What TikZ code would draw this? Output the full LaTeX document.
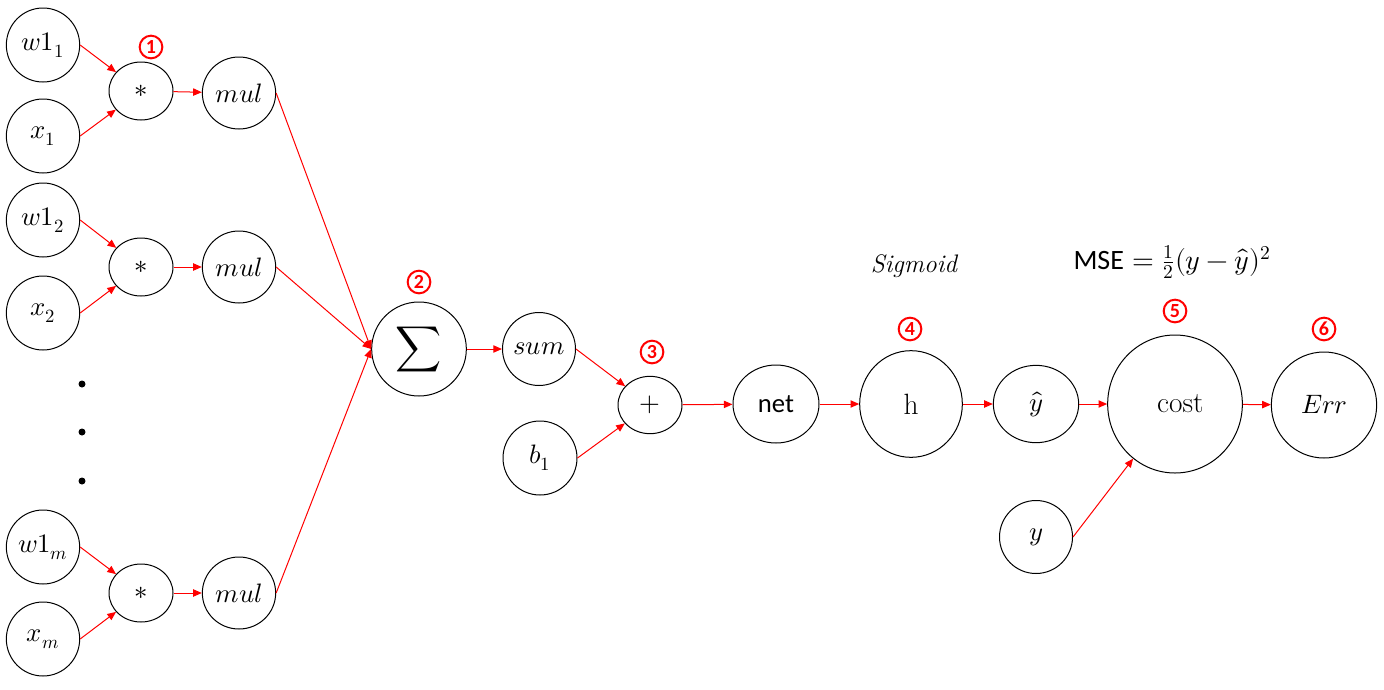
\documentclass[tikz,border=0pt]{standalone}
\usepackage{fontspec}
\usepackage{unicode-math}
\setmathfont{Latin Modern Math}
\newfontfamily\calibri{Carlito}
\usetikzlibrary{shapes.geometric,arrows.meta}

\begin{document}
\begin{tikzpicture}[x=0.75pt,y=-0.75pt,
  nd/.style={ellipse, draw, line width=0.75pt, inner sep=0pt, font=\fontsize{20}{24}\selectfont},
  every edge/.style={draw, red, line width=0.75pt, -{Triangle[length=6.5pt,width=5.5pt]}},
  num/.style={circle, draw=red, line width=1.5pt, text=red, minimum size=17pt, inner sep=0pt, font={\calibri\bfseries\fontsize{15}{15}\selectfont}}]
  \useasboundingbox (0,0) rectangle (1384,689);
  % inputs and products
  \node[nd, minimum width=55pt, minimum height=55.5pt] (w11) at (43,45) {$w1_1$};
  \node[nd, minimum width=55pt, minimum height=55.5pt] (x1) at (43,136) {$x_1$};
  \node[nd, minimum width=48pt, minimum height=43.5pt] (st1) at (141,91) {$*$};
  \node[nd, minimum width=55pt, minimum height=54pt] (mul1) at (239,93) {$mul$};
  \node[nd, minimum width=55pt, minimum height=55.5pt] (w12) at (43,220) {$w1_2$};
  \node[nd, minimum width=55pt, minimum height=55.5pt] (x2) at (43,313) {$x_2$};
  \node[nd, minimum width=48pt, minimum height=43.5pt] (st2) at (141,267) {$*$};
  \node[nd, minimum width=55pt, minimum height=54pt] (mul2) at (239,267) {$mul$};
  \node[nd, minimum width=55pt, minimum height=55.5pt] (w1m) at (43,547) {$w1_m$};
  \node[nd, minimum width=55pt, minimum height=55.5pt] (xm) at (43,639) {$x_m$};
  \node[nd, minimum width=48pt, minimum height=43.5pt] (stm) at (141,593) {$*$};
  \node[nd, minimum width=55pt, minimum height=54pt] (mulm) at (239,593) {$mul$};
  \fill (82,384) circle (3.5) (82,432) circle (3.5) (82,481) circle (3.5);
  % sum, bias, activation, cost
  \node[nd, minimum width=71pt, minimum height=70.5pt] (sig) at (419,349) {\fontsize{24}{28}\selectfont$\displaystyle\sum$};
  \node[nd, minimum width=54.75pt, minimum height=54.75pt] (sum) at (539,349) {$sum$};
  \node[nd, minimum width=55.5pt, minimum height=55.5pt] (b1) at (540,458) {$b_1$};
  \node[nd, minimum width=48pt, minimum height=43pt] (plus) at (650,405) {$+$};
  \node[nd, minimum width=64.5pt, minimum height=58.5pt, font={\calibri\fontsize{20}{24}\selectfont}] (net) at (776,404) {net};
  \node[nd, minimum width=77pt, minimum height=80pt, font=\fontsize{22}{26}\selectfont] (h) at (911,404) {h};
  \node[nd, minimum width=64pt, minimum height=58pt] (yhat) at (1036,404) {$\hat{y}$};
  \node[nd, minimum width=101pt, minimum height=103.5pt, font=\fontsize{22}{26}\selectfont] (cost) at (1175,404) {\hspace*{8pt}cost};
  \node[nd, minimum width=79pt, minimum height=79.5pt] (err) at (1324,405) {$Err$};
  \node[nd, minimum width=54.75pt, minimum height=54.75pt] (y) at (1036,537) {$y$};
  % texts
  \node[font=\fontsize{19}{22}\selectfont\itshape] (sgm) at (914,266) {Sigmoid};
  \node[font=\fontsize{21}{24}\selectfont] (mse) at (1172,262) {{\calibri MSE} $=\frac{1}{2}(y-\hat{y})^2$};
  \node[num] (n1) at (151,47) {1};
  \node[num] (n2) at (419,282) {2};
  \node[num] (n3) at (652,352) {3};
  \node[num] (n4) at (910,329) {4};
  \node[num] (n5) at (1175,311) {5};
  \node[num] (n6) at (1324,329) {6};
  % connectors
  \path (w11.east) edge (st1)
        (x1.east) edge (st1)
        (st1) edge (mul1)
        (w12.east) edge (st2)
        (x2.east) edge (st2)
        (st2) edge (mul2)
        (w1m.east) edge (stm)
        (xm.east) edge (stm)
        (stm) edge (mulm)
        (mul1.east) edge (sig.west)
        (mul2.east) edge (sig.west)
        (mulm.east) edge (sig.west)
        (sig) edge (sum)
        (sum.east) edge (plus)
        (b1.east) edge (plus)
        (plus) edge (net)
        (net) edge (h)
        (h) edge (yhat)
        (yhat) edge (cost)
        (cost) edge (err)
        (y.east) edge (cost);
\end{tikzpicture}
\end{document}
